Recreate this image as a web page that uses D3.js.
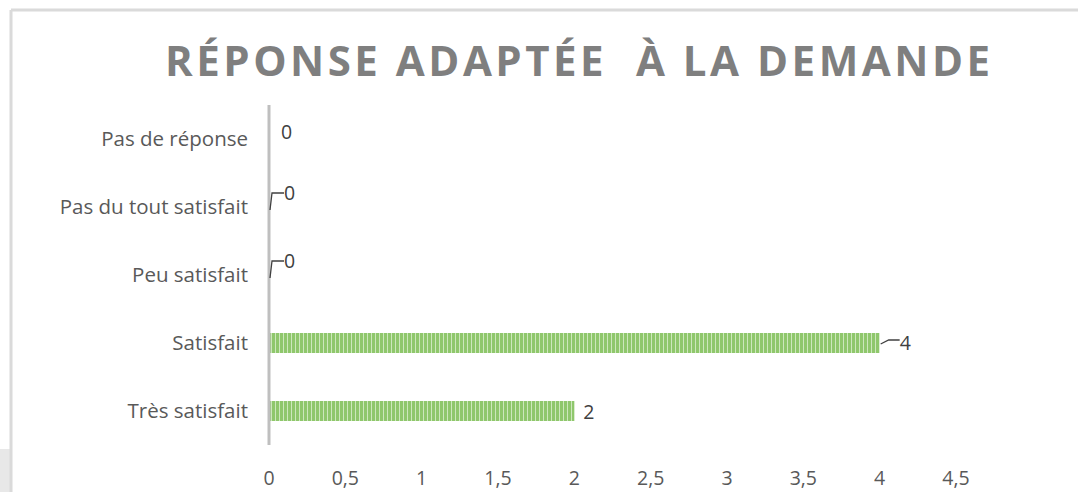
<!DOCTYPE html>
<html>
<head>
<meta charset="utf-8">
<script src="https://cdn.jsdelivr.net/npm/d3@7"></script>
<style>
  body { margin: 0; background: #fff; }
  svg { display: block; font-family: "Open Sans", sans-serif; }
</style>
</head>
<body>
<div class="chart"></div>
<script>
var categories = ["Pas de réponse", "Pas du tout satisfait", "Peu satisfait", "Satisfait", "Très satisfait"];
var values = [0, 0, 0, 4, 2];
var ticks = [0, 0.5, 1, 1.5, 2, 2.5, 3, 3.5, 4, 4.5];
var title = "RÉPONSE ADAPTÉE  À LA DEMANDE";

var W = 1079, H = 492;
var svg = d3.select(".chart").append("svg").attr("width", W).attr("height", H);

// pattern for the striped bars
var pat = svg.append("defs").append("pattern")
	.attr("id", "stripes").attr("patternUnits", "userSpaceOnUse")
	.attr("width", 4).attr("height", 10);
pat.append("rect").attr("width", 4).attr("height", 10).attr("fill", "#cde7bd");
pat.append("rect").attr("width", 3).attr("height", 10).attr("fill", "#8fc76c");

// frame
svg.append("rect").attr("x", 0).attr("y", 449).attr("width", 10).attr("height", 43).attr("fill", "#e8e8e8");
svg.append("line").attr("x1", 11).attr("x2", 1078).attr("y1", 10).attr("y2", 10).attr("stroke", "#dadada").attr("stroke-width", 3);
svg.append("line").attr("x1", 11).attr("x2", 11).attr("y1", 10).attr("y2", H).attr("stroke", "#dadada").attr("stroke-width", 3);

var x = d3.scaleLinear().domain([0, 4.5]).range([269, 956]);
var y = d3.scaleBand().domain(categories).range([105, 445]);

svg.append("text").attr("x", 165).attr("y", 76)
	.attr("textLength", 825).attr("lengthAdjust", "spacing")
	.attr("font-size", 42).attr("font-weight", "bold").attr("fill", "#7f7f7f")
	.style("white-space", "pre")
	.text(title);

// bars
svg.selectAll("rect.bar").data(values).enter().append("rect").attr("class", "bar")
	.attr("x", x(0))
	.attr("y", function(d, i) { return y(categories[i]) + y.bandwidth() / 2 - 10; })
	.attr("width", function(d) { return x(d) - x(0); })
	.attr("height", 20)
	.attr("fill", "url(#stripes)");

// category labels
svg.selectAll("text.cat").data(categories).enter().append("text").attr("class", "cat")
	.attr("x", 248).attr("y", function(d) { return y(d) + y.bandwidth() / 2 + 7; })
	.attr("text-anchor", "end").attr("font-size", 20.5).attr("fill", "#595959")
	.text(function(d) { return d; });

// x tick labels
svg.selectAll("text.tick").data(ticks).enter().append("text").attr("class", "tick")
	.attr("x", function(d) { return x(d); }).attr("y", 485)
	.attr("text-anchor", "middle").attr("font-size", 19.5).attr("fill", "#595959")
	.text(function(d) { return String(d).replace(".", ","); });

// vertical axis
svg.append("line").attr("x1", x(0)).attr("x2", x(0)).attr("y1", 105).attr("y2", 445)
	.attr("stroke", "#bfbfbf").attr("stroke-width", 3);

// data labels with leader lines
var lab = svg.append("g").attr("font-size", 19.5).attr("fill", "#404040");
values.forEach(function(v, i) {
	var cy = y(categories[i]) + y.bandwidth() / 2;
	var xe = x(v);
	if (i == 1 || i == 2) {
		lab.append("path").attr("d", "M" + (xe + 1) + "," + (cy + 3) + " L" + (xe + 3) + "," + (cy - 14) + " L" + (xe + 15) + "," + (cy - 14))
			.attr("fill", "none").attr("stroke", "#404040").attr("stroke-width", 1.3);
		lab.append("text").attr("x", xe + 15).attr("y", cy - 7).text(v);
	} else if (i == 3) {
		lab.append("path").attr("d", "M" + (xe + 1) + "," + (cy + 1) + " L" + (xe + 9) + "," + (cy - 3) + " L" + (xe + 20) + "," + (cy - 3))
			.attr("fill", "none").attr("stroke", "#404040").attr("stroke-width", 1.3);
		lab.append("text").attr("x", xe + 20).attr("y", cy + 7).text(v);
	} else if (i == 0) {
		lab.append("text").attr("x", xe + 12).attr("y", cy).text(v);
	} else {
		lab.append("text").attr("x", xe + 9).attr("y", cy + 8).text(v);
	}
});
</script>
</body>
</html>
